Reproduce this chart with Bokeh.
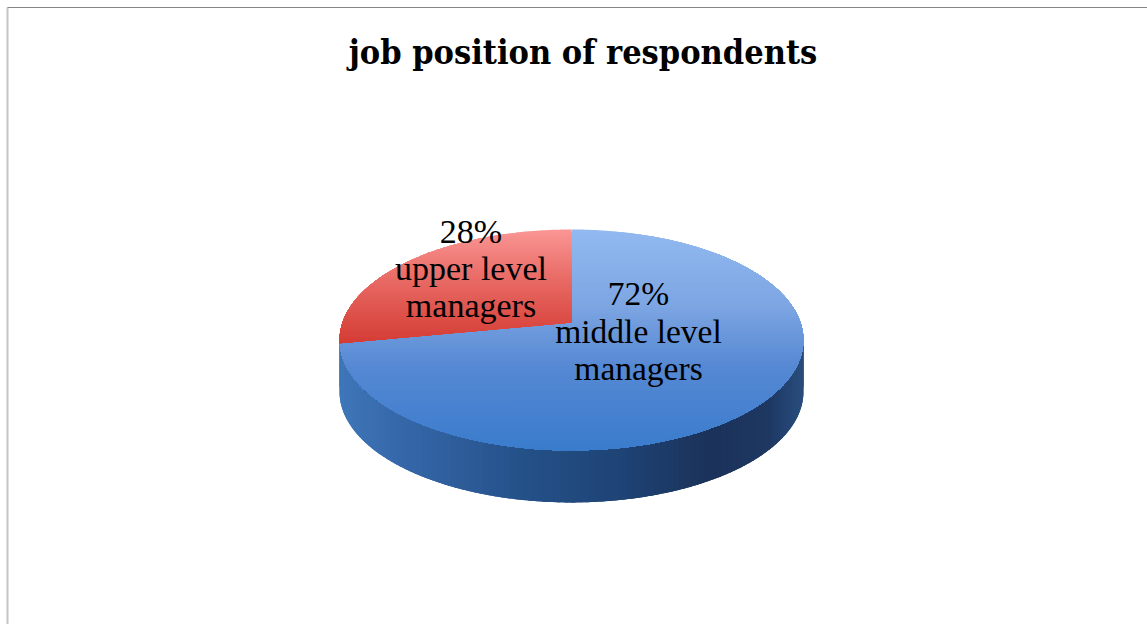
import numpy as np
from bokeh.core.properties import value
from bokeh.embed import file_html
from bokeh.models import Range1d
from bokeh.plotting import figure
from bokeh.resources import INLINE

# Survey shares, drawn clockwise from twelve o'clock
categories = ["middle level managers", "upper level managers"]
shares = [72, 28]
title = "job position of respondents"

# Perspective disc geometry, in pixels of the page
CX, CY = 571.0, 322.0      # disc centre as projected
RX, RY = 229.0, 107.7
TILT = 0.158               # strength of the perspective foreshortening
DEPTH = 52.0

W, H = 1147, 624
p = figure(width=W, height=H, output_backend="svg", toolbar_location=None,
           x_range=Range1d(0, W), y_range=Range1d(H, 0),
           min_border=0, outline_line_color=None, background_fill_color="white",
           border_fill_color="white")
p.axis.visible = False
p.grid.visible = False


def rim(t):
    """Projected point of the disc edge at clockwise angle t (radians)."""
    d = 1 + TILT * np.cos(t)
    return CX + RX * np.sin(t) / d, CY - RY * np.cos(t) / d


def mix(stops, f):
    f = float(np.clip(f, 0, 1))
    xs = [s[0] for s in stops]
    rgb = [int(round(np.interp(f, xs, [s[1][i] for s in stops]))) for i in range(3)]
    return "#%02x%02x%02x" % tuple(rgb)


BLUE_TOP = [(0.0, (146, 185, 240)), (0.35, (124, 165, 226)), (0.62, (86, 136, 211)), (1.0, (58, 124, 204))]
RED_TOP = [(0.0, (250, 150, 148)), (0.45, (232, 105, 100)), (1.0, (212, 60, 52))]
SIDE = [(0.0, (62, 118, 184)), (0.12, (54, 104, 170)), (0.4, (36, 80, 136)), (0.62, (30, 66, 116)),
        (0.8, (27, 50, 90)), (0.93, (30, 56, 98)), (1.0, (40, 76, 124))]

# Edge of the slices, from the shares
total = sum(shares)
edges = np.cumsum([0] + shares) / total * 2 * np.pi
blue_t = np.linspace(edges[0], edges[1], 260)
red_t = np.linspace(edges[1], edges[2], 110)

# Side wall: overlapping vertical strips along the visible lower rim, right to left
t_wall = np.linspace(np.pi / 2 - 0.16, 3 * np.pi / 2 + 0.16, 130)
step = t_wall[1] - t_wall[0]
for a in t_wall[:-1]:
    ts = np.linspace(a, a + 2.5 * step, 5)
    x, y = rim(ts)
    c = mix(SIDE, (rim(a + step / 2)[0] - (CX - RX)) / (2 * RX))
    p.patch(np.r_[x, x[::-1]], np.r_[y, y[::-1] + DEPTH], fill_color=c, line_color=None)


def clip_band(x, y, lo, hi):
    """Clip a polygon to the horizontal band lo <= y <= hi."""
    pts = list(zip(x, y))
    for bound, keep_below in ((lo, False), (hi, True)):
        out = []
        for i in range(len(pts)):
            a, b = pts[i], pts[(i + 1) % len(pts)]
            ina = a[1] <= bound if keep_below else a[1] >= bound
            inb = b[1] <= bound if keep_below else b[1] >= bound
            if ina:
                out.append(a)
            if ina != inb:
                s = (bound - a[1]) / (b[1] - a[1])
                out.append((a[0] + s * (b[0] - a[0]), bound))
        pts = out
        if not pts:
            return [], []
    return [q[0] for q in pts], [q[1] for q in pts]


def shaded_slice(ts, stops, y0, y1, bands):
    """Fill one slice of the top face with overlapping horizontal colour bands."""
    x, y = rim(ts)
    x = np.r_[CX, x]
    y = np.r_[CY, y]
    levels = np.linspace(y0, y1, bands + 1)
    for lo, hi in zip(levels[:-1], levels[1:]):
        px, py = clip_band(x, y, lo, y1 + 1)
        if len(px) >= 3:
            c = mix(stops, ((lo + hi) / 2 - y0) / (y1 - y0))
            p.patch(px, py, fill_color=c, line_color=None)


top_y = CY - RY / (1 + TILT)
bottom_y = CY + RY / (1 - TILT)
shaded_slice(blue_t, BLUE_TOP, top_y, bottom_y, 90)
shaded_slice(red_t, RED_TOP, top_y, float(rim(edges[1:2])[1][0]), 50)

# Frame of the chart: left and top edges only
p.line([7, 7], [7, 624], line_color="#c4c4c4", line_width=2)
p.line([7, 1147], [7, 7], line_color="#868686", line_width=1)

p.text([582.5], [51], text=[title], text_font=value("DejaVu Serif Condensed"), text_font_size="34px",
       text_font_style="bold", text_align="center", text_baseline="alphabetic", text_color="black")

serif = value("Liberation Serif")
p.text([470.5] * 3, [231, 268, 305], text=[f"{shares[1]}%", "upper level", "managers"],
       text_font=serif, text_font_size="34px", text_align="center",
       text_baseline="alphabetic", text_color="black")
p.text([638] * 3, [293, 331, 368], text=[f"{shares[0]}%", "middle level", "managers"],
       text_font=serif, text_font_size="33.5px", text_align="center",
       text_baseline="alphabetic", text_color="black")

open("out.html", "w").write(file_html(p, INLINE))
